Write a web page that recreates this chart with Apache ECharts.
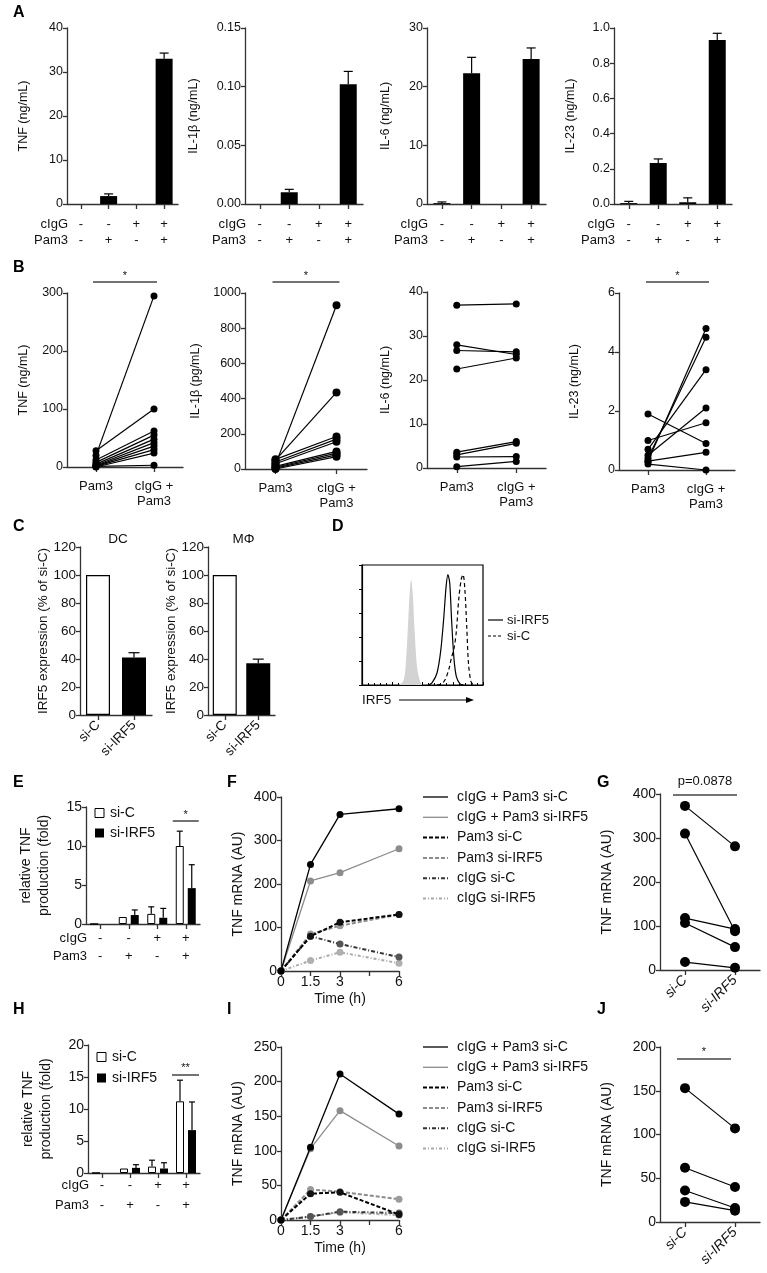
<!DOCTYPE html>
<html>
<head>
<meta charset="utf-8">
<title>IRF5 figure</title>
<script src="https://cdn.jsdelivr.net/npm/echarts@6.0.0/dist/echarts.min.js"></script>
<style>
  html, body { margin: 0; padding: 0; background: #fff; }
  #fig { width: 767px; height: 1273px; }
</style>
</head>
<body>
<div id="fig"></div>
<script>
// ---- A: cytokines per condition (mean, SEM) ----
const cIgGRow = ['-', '-', '+', '+']
const pam3Row = ['-', '+', '-', '+']
const aTNF = [0, 1.8, 0, 33.0]
const aTNFErr = [0, 0.5, 0, 1.3]
const aIL1b = [0, 0.010, 0, 0.102]
const aIL1bErr = [0, 0.0025, 0, 0.011]
const aIL6 = [0.15, 22.3, 0, 24.7]
const aIL6Err = [0.2, 2.7, 0, 1.9]
const aIL23 = [0.005, 0.233, 0.01, 0.932]
const aIL23Err = [0.01, 0.023, 0.025, 0.038]

// ---- B: paired donors, Pam3 vs cIgG + Pam3 ----
const bCats = ['Pam3', 'cIgG +\nPam3']
const bTNFPam3 = [20, 28, 12, 8, 5, 3, 2, 1, 0, 1]
const bTNFBoth = [295, 100, 62, 55, 48, 42, 36, 30, 24, 3]
const bIL1bPam3 = [25, 50, 55, 40, 30, 15, 10, 5, 0]
const bIL1bBoth = [930, 435, 185, 170, 155, 100, 90, 80, 70]
const bIL6Pam3 = [37, 28, 26.7, 22.5, 3.6, 3.0, 2.5, 0.3]
const bIL6Both = [37.3, 25.8, 26.4, 25, 6.0, 5.6, 2.6, 1.5]
const bIL23Pam3 = [0.3, 0.4, 0.7, 0.5, 1.0, 1.9, 0.3, 0.2]
const bIL23Both = [4.8, 4.5, 3.4, 2.1, 1.6, 0.9, 0.6, 0.0]

// ---- C: IRF5 knockdown ----
const cCats = ['si-C', 'si-IRF5']
const cDC = [100, 41]
const cDCErr = [0, 3.5]
const cMac = [100, 37]
const cMacErr = [0, 2.9]

// ---- D: flow histogram (intensity, % of max count) ----
const dIso = [[30, 0], [34, 3], [36, 15], [38, 50], [39.5, 78], [40.6, 88], [42, 75], [43.5, 45], [45.5, 15], [48, 3], [50, 0]]
const dSiIRF5 = [[55, 0], [58, 2], [62, 10], [65, 28], [67.5, 55], [69.5, 82], [71, 92], [72.5, 85], [74, 55], [76, 22], [78, 7], [81, 1], [84, 0]]
const dSiC = [[62, 0], [66, 1], [69, 5], [72, 14], [74, 23], [76, 30], [78, 45], [80, 72], [82, 88], [83.5, 92], [85, 80], [86.5, 50], [88, 18], [90, 3], [92, 0]]

// ---- E / H: relative TNF production ----
const eSiC = [0, 0.9, 1.3, 10.0]
const eSiCErr = [0, 0, 0.9, 1.9]
const eSiIRF5 = [0, 1.15, 0.8, 4.6]
const eSiIRF5Err = [0, 0.65, 1.2, 3.0]
const hSiC = [0, 0.7, 1.0, 11.2]
const hSiCErr = [0, 0, 1.0, 3.3]
const hSiIRF5 = [0, 0.8, 0.7, 6.7]
const hSiIRF5Err = [0, 0.5, 0.9, 4.4]

// ---- F / I: TNF mRNA time course ----
const timeH = [0, 1.5, 3, 6]
const courseNames = ['cIgG + Pam3 si-C', 'cIgG + Pam3 si-IRF5', 'Pam3 si-C', 'Pam3 si-IRF5', 'cIgG si-C', 'cIgG si-IRF5']
const fBothSiC = [0, 245, 360, 373]
const fBothSiIRF5 = [0, 207, 226, 281]
const fPam3SiC = [0, 80, 112, 130]
const fPam3SiIRF5 = [0, 85, 104, 130]
const fIgGSiC = [0, 80, 62, 32]
const fIgGSiIRF5 = [0, 24, 43, 18]
const iBothSiC = [0, 105, 211, 153]
const iBothSiIRF5 = [0, 103, 158, 107]
const iPam3SiC = [0, 38, 40, 8]
const iPam3SiIRF5 = [0, 44, 41, 30]
const iIgGSiC = [0, 5, 12, 10]
const iIgGSiIRF5 = [0, 5, 11, 7]

// ---- G / J: paired TNF mRNA ----
const gSiC = [373, 310, 118, 107, 18]
const gSiIRF5 = [281, 88, 93, 52, 5]
const jSiC = [153, 62, 36, 23]
const jSiIRF5 = [107, 40, 16, 13]

const FONT = '"Liberation Sans", Arial, sans-serif'
const INK = '#111'
const AXIS = '#333'
let FS = 12.5   // text size, the lower panels use a larger one

const grids = [], xAxes = [], yAxes = [], series = [], graphics = []

function txt(x, y, text, extra) {
    graphics.push({
        type: 'text', x, y, z: 10,
        style: Object.assign({
            text, fill: INK, font: FS + 'px ' + FONT,
            textAlign: 'left', align: 'left', textVerticalAlign: 'middle', verticalAlign: 'middle'
        }, extra)
    })
}

function yVal(min, max, interval, name, nameGap, fmt) {
    return {
        type: 'value', min, max, interval, name, nameLocation: 'middle', nameRotate: 90, nameGap,
        nameMoveOverlap: false,
        nameTextStyle: { color: INK, fontSize: FS, fontFamily: FONT, lineHeight: FS + 4 },
        axisLine: { show: true, lineStyle: { color: AXIS, width: 1.3 } },
        axisTick: { show: true, length: 4, lineStyle: { color: AXIS, width: 1.3 } },
        splitLine: { show: false },
        axisLabel: { color: INK, fontSize: FS, fontFamily: FONT, margin: 4, formatter: fmt }
    }
}

function xCat(data, labelExtra) {
    return {
        type: 'category', data,
        axisLine: { show: true, lineStyle: { color: AXIS, width: 1.3 } },
        axisTick: { show: true, alignWithLabel: true, length: 5, lineStyle: { color: AXIS, width: 1.3 } },
        splitLine: { show: false },
        axisLabel: Object.assign({ interval: 0, color: INK, fontSize: FS, fontFamily: FONT }, labelExtra)
    }
}

function panel(box, x, y, gridExtra) {
    const i = grids.length
    grids.push(Object.assign({ containLabel: false, outerBoundsMode: 'none' }, box, gridExtra))
    x.gridIndex = i
    y.gridIndex = i
    xAxes.push(x)
    yAxes.push(y)
    return i
}

function errBars(gi, vals, errs, offset, cap) {
    series.push({
        type: 'custom', xAxisIndex: gi, yAxisIndex: gi, z: 5, silent: true,
        data: vals.map((v, k) => [k, v, errs[k]]),
        renderItem: (params, api) => {
            const e = api.value(2)
            if (!e) return null
            const b = api.coord([api.value(0), api.value(1)])
            const t = api.coord([api.value(0), api.value(1) + e])
            const x = b[0] + offset
            const st = { stroke: '#000', lineWidth: 1.2 }
            return {
                type: 'group', children: [
                    { type: 'line', shape: { x1: x, y1: b[1], x2: x, y2: t[1] }, style: st },
                    { type: 'line', shape: { x1: x - cap / 2, y1: t[1], x2: x + cap / 2, y2: t[1] }, style: st }
                ]
            }
        }
    })
}

function pairs(gi, a, b, size) {
    a.forEach((v, k) => series.push({
        type: 'line', xAxisIndex: gi, yAxisIndex: gi, data: [v, b[k]], clip: false,
        symbol: 'circle', symbolSize: size, lineStyle: { color: '#000', width: 1.2 },
        itemStyle: { color: '#000' }, z: 3
    }))
}

// condition rows under A / E / H
function conditionRows(gi, first, step, size) {
    const g = grids[gi]
    const base = g.top + g.height
    const f = { textAlign: 'right', align: 'right', font: size + 'px ' + FONT }
    txt(g.left + 1, base + first, 'cIgG', f)
    txt(g.left + 1, base + first + step, 'Pam3', f)
}

const condLabels = cIgGRow.map((c, k) => c + '\n' + pam3Row[k])

// ---------- A ----------
const aPanels = [
    [{ left: 67, top: 28, width: 111, height: 176 }, aTNF, aTNFErr, yVal(0, 40, 10, 'TNF (ng/mL)', 35)],
    [{ left: 245, top: 28, width: 118, height: 176 }, aIL1b, aIL1bErr, yVal(0, 0.15, 0.05, 'IL-1β (ng/mL)', 43, v => v.toFixed(2))],
    [{ left: 427, top: 28, width: 119, height: 176 }, aIL6, aIL6Err, yVal(0, 30, 10, 'IL-6 (ng/mL)', 33)],
    [{ left: 614, top: 28, width: 118, height: 176 }, aIL23, aIL23Err, yVal(0, 1, 0.2, 'IL-23 (ng/mL)', 35, v => v.toFixed(1))]
]
aPanels.forEach(([box, vals, errs, y]) => {
    const gi = panel(box, xCat(condLabels, { lineHeight: 16, margin: 12, fontSize: 13 }), y)
    series.push({ type: 'bar', xAxisIndex: gi, yAxisIndex: gi, data: vals, barWidth: 17, itemStyle: { color: '#000' } })
    errBars(gi, vals, errs, 0, 9)
    conditionRows(gi, 20, 16, 13)
})

// ---------- B ----------
const bLab = { lineHeight: 15, margin: 12, fontSize: 13 }
const bTNF = panel({ left: 67, top: 293, width: 116, height: 174 }, xCat(bCats, bLab), yVal(0, 300, 100, 'TNF (ng/mL)', 35))
pairs(bTNF, bTNFPam3, bTNFBoth, 7)
const bIL1b = panel({ left: 245, top: 293, width: 122, height: 176 }, xCat(bCats, bLab), yVal(0, 1000, 200, 'IL-1β (pg/mL)', 41, v => String(v)))
pairs(bIL1b, bIL1bPam3, bIL1bBoth, 8)
const bIL6 = panel({ left: 427, top: 292, width: 119, height: 176 }, xCat(bCats, bLab), yVal(0, 40, 10, 'IL-6 (ng/mL)', 33))
pairs(bIL6, bIL6Pam3, bIL6Both, 7)
const bIL23 = panel({ left: 619, top: 293, width: 116, height: 177 }, xCat(bCats, bLab), yVal(0, 6, 2, 'IL-23 (ng/mL)', 36))
pairs(bIL23, bIL23Pam3, bIL23Both, 7)

// ---------- C ----------
FS = 13.5
const cLab = { rotate: 45, margin: 8 }
function knockdown(box, vals, errs, title) {
    const gi = panel(box, xCat(cCats, cLab), yVal(0, 120, 20, 'IRF5 expression (% of si-C)', 28))
    series.push({
        type: 'bar', xAxisIndex: gi, yAxisIndex: gi, barWidth: 24,
        data: vals.map((v, k) => ({ value: v, itemStyle: k === 0 ? { color: '#fff', borderColor: '#000', borderWidth: 1.2 } : { color: '#000' } }))
    })
    errBars(gi, vals, errs, 0, 11)
    txt(box.left + box.width / 2 + 2, box.top - 8, title, { textAlign: 'center', align: 'center' })
}
knockdown({ left: 80, top: 547, width: 72, height: 168 }, cDC, cDCErr, 'DC')
knockdown({ left: 208, top: 547, width: 67, height: 168 }, cMac, cMacErr, 'MΦ')

// ---------- D ----------
const dGi = panel({ left: 362, top: 565, width: 121, height: 120 },
    {
        type: 'value', min: 0, max: 100, interval: 25,
        axisLine: { show: true, lineStyle: { color: '#000', width: 1.2 } },
        axisTick: { show: true, inside: true, length: 3, lineStyle: { color: '#000' } },
        minorTick: { show: true, splitNumber: 5, length: 2, lineStyle: { color: '#000' } },
        axisLabel: { show: false }, splitLine: { show: false }
    },
    {
        type: 'value', min: 0, max: 100, interval: 20,
        axisLine: { show: true, lineStyle: { color: '#000', width: 1.2 } },
        axisTick: { show: true, length: 3, lineStyle: { color: '#000' } },
        axisLabel: { show: false }, splitLine: { show: false }
    },
    { show: true, borderColor: '#000', borderWidth: 1.2 })
series.push({ type: 'line', xAxisIndex: dGi, yAxisIndex: dGi, data: dIso, smooth: 0.3, symbol: 'none', lineStyle: { width: 0 }, areaStyle: { color: '#d3d3d3', opacity: 1 } })
series.push({ type: 'line', name: 'si-IRF5', xAxisIndex: dGi, yAxisIndex: dGi, data: dSiIRF5, smooth: 0.3, symbol: 'none', lineStyle: { color: '#000', width: 1.2 } })
series.push({ type: 'line', name: 'si-C', xAxisIndex: dGi, yAxisIndex: dGi, data: dSiC, smooth: 0.3, symbol: 'none', lineStyle: { color: '#000', width: 1.2, type: [4, 3] } })
graphics.push({ type: 'line', shape: { x1: 488, y1: 620, x2: 503, y2: 620 }, style: { stroke: '#000', lineWidth: 1.2 } })
txt(507, 620, 'si-IRF5', { font: '13px ' + FONT })
graphics.push({ type: 'line', shape: { x1: 488, y1: 636, x2: 503, y2: 636 }, style: { stroke: '#000', lineWidth: 1.2, lineDash: [3, 2] } })
txt(507, 636, 'si-C', { font: '13px ' + FONT })
txt(362, 700, 'IRF5')
graphics.push({ type: 'line', shape: { x1: 399, y1: 700, x2: 468, y2: 700 }, style: { stroke: '#000', lineWidth: 1 } })
graphics.push({ type: 'polygon', shape: { points: [[474, 700], [466, 697], [466, 703]] }, style: { fill: '#000' } })

// ---------- E / H ----------
FS = 14
function foldPanel(box, siC, siCErr, siIRF5, siIRF5Err, yMax, first, step, lh, margin, legY) {
    const gi = panel(box, xCat(condLabels, { lineHeight: lh, margin, fontSize: 13 }),
        yVal(0, yMax, 5, 'relative TNF\nproduction (fold)', 33))
    series.push({ type: 'bar', xAxisIndex: gi, yAxisIndex: gi, data: siC, barWidth: 8, barGap: '50%', itemStyle: { color: '#fff', borderColor: '#000', borderWidth: 1 } })
    series.push({ type: 'bar', xAxisIndex: gi, yAxisIndex: gi, data: siIRF5, barWidth: 8, barGap: '50%', itemStyle: { color: '#000' } })
    errBars(gi, siC, siCErr, -6, 6)
    errBars(gi, siIRF5, siIRF5Err, 6, 6)
    conditionRows(gi, first, step, 13)
    const lx = box.left + 9
    graphics.push({ type: 'rect', shape: { x: lx, y: legY[0] - 4.5, width: 9, height: 9 }, style: { fill: '#fff', stroke: '#000', lineWidth: 1 } })
    graphics.push({ type: 'rect', shape: { x: lx, y: legY[1] - 4.5, width: 9, height: 9 }, style: { fill: '#000' } })
    txt(lx + 15, legY[0], 'si-C')
    txt(lx + 15, legY[1], 'si-IRF5')
    return gi
}
const eGi = foldPanel({ left: 86, top: 807, width: 114, height: 117 }, eSiC, eSiCErr, eSiIRF5, eSiIRF5Err, 15, 14, 18, 18, 5, [813, 833])
const hGi = foldPanel({ left: 88, top: 1045, width: 112, height: 128 }, hSiC, hSiCErr, hSiIRF5, hSiIRF5Err, 20, 12, 20, 20, 2, [1057, 1078])

// ---------- F / I ----------
const courseStyles = [
    { color: '#000', type: 'solid', width: 1.3, dot: '#000' },
    { color: '#8c8c8c', type: 'solid', width: 1.3, dot: '#8c8c8c' },
    { color: '#000', type: [4, 2], width: 2, dot: '#111' },
    { color: '#8c8c8c', type: [4, 2], width: 2, dot: '#9a9a9a' },
    { color: '#333', type: [4, 2, 1, 2], width: 2, dot: '#555' },
    { color: '#aaa', type: [3, 2, 1, 2], width: 2, dot: '#b0b0b0' }
]
function coursePanel(box, yMax, yInt, lists, legX, legY) {
    const gi = panel(box, {
        type: 'value', min: 0, max: 6, interval: 1.5, name: 'Time (h)', nameLocation: 'middle', nameGap: 21,
        nameTextStyle: { color: INK, fontSize: FS, fontFamily: FONT },
        axisLine: { show: true, lineStyle: { color: AXIS, width: 1.3 } },
        axisTick: { show: true, length: 5, lineStyle: { color: AXIS, width: 1.3 } },
        splitLine: { show: false },
        axisLabel: { color: INK, fontSize: FS, fontFamily: FONT, margin: 4, formatter: v => v === 4.5 ? '' : String(v) }
    }, yVal(0, yMax, yInt, 'TNF mRNA (AU)', 34))
    lists.forEach((vals, k) => {
        const s = courseStyles[k]
        series.push({
            type: 'line', name: courseNames[k], xAxisIndex: gi, yAxisIndex: gi, clip: false,
            data: timeH.map((t, n) => [t, vals[n]]),
            symbol: 'circle', symbolSize: 7, z: 6 - k,
            lineStyle: { color: s.color, width: s.width, type: s.type },
            itemStyle: { color: s.dot }
        })
        const y = legY + k * 20.3
        graphics.push({ type: 'line', shape: { x1: legX, y1: y, x2: legX + 25, y2: y }, style: { stroke: s.color, lineWidth: s.width, lineDash: Array.isArray(s.type) ? s.type : null } })
        txt(legX + 34, y, courseNames[k])
    })
    return gi
}
coursePanel({ left: 281, top: 797, width: 118, height: 174 }, 400, 100,
    [fBothSiC, fBothSiIRF5, fPam3SiC, fPam3SiIRF5, fIgGSiC, fIgGSiIRF5], 423, 797)
coursePanel({ left: 281, top: 1047, width: 118, height: 173 }, 250, 50,
    [iBothSiC, iBothSiIRF5, iPam3SiC, iPam3SiIRF5, iIgGSiC, iIgGSiIRF5], 423, 1047)

// ---------- G / J ----------
const gjLab = { rotate: 45, margin: 8, fontStyle: 'italic' }
const gGi = panel({ left: 660, top: 794, width: 100, height: 176 }, xCat(cCats, gjLab), yVal(0, 400, 100, 'TNF mRNA (AU)', 44))
pairs(gGi, gSiC, gSiIRF5, 10)
const jGi = panel({ left: 660, top: 1047, width: 100, height: 175 }, xCat(cCats, gjLab), yVal(0, 200, 50, 'TNF mRNA (AU)', 44))
pairs(jGi, jSiC, jSiIRF5, 10)

// panel letters
;[['A', 13, 13], ['B', 13, 268], ['C', 13, 527], ['D', 332, 527], ['E', 13, 783], ['F', 227, 783],
  ['G', 597, 783], ['H', 13, 1010], ['I', 227, 1010], ['J', 597, 1010]]
    .forEach(([t, x, y]) => txt(x, y, t, { font: 'bold 16px ' + FONT, fill: '#000' }))

const chart = echarts.init(document.getElementById('fig'), null, { width: 767, height: 1273 })
chart.setOption({
    animation: false,
    backgroundColor: '#fff',
    textStyle: { fontFamily: FONT },
    grid: grids, xAxis: xAxes, yAxis: yAxes, series,
    graphic: { elements: graphics.slice() }
})

// significance bars, placed over the category positions
function sig(gi, c0, c1, padL, padR, yBar, label, yText, size) {
    const x0 = chart.convertToPixel({ xAxisIndex: gi }, c0) - padL
    const x1 = chart.convertToPixel({ xAxisIndex: gi }, c1) + padR
    graphics.push({ type: 'line', shape: { x1: x0, y1: yBar, x2: x1, y2: yBar }, style: { stroke: '#444', lineWidth: 1.5 } })
    txt((x0 + x1) / 2, yText, label, { textAlign: 'center', align: 'center', font: (size || 11) + 'px ' + FONT })
}
sig(bTNF, 0, 1, 3, 3, 282, '*', 276)
sig(bIL1b, 0, 1, 3, 3, 282, '*', 276)
sig(bIL23, 0, 1, 2, 3, 282, '*', 276)
sig(eGi, 3, 3, 13, 13, 821, '*', 815)
sig(hGi, 3, 3, 14, 13, 1075, '**', 1068)
sig(gGi, 0, 1, 12, 2, 795, 'p=0.0878', 781, 13)
sig(jGi, 0, 1, 8, -4, 1059, '*', 1052)
chart.setOption({ graphic: { elements: graphics } })
</script>
</body>
</html>
